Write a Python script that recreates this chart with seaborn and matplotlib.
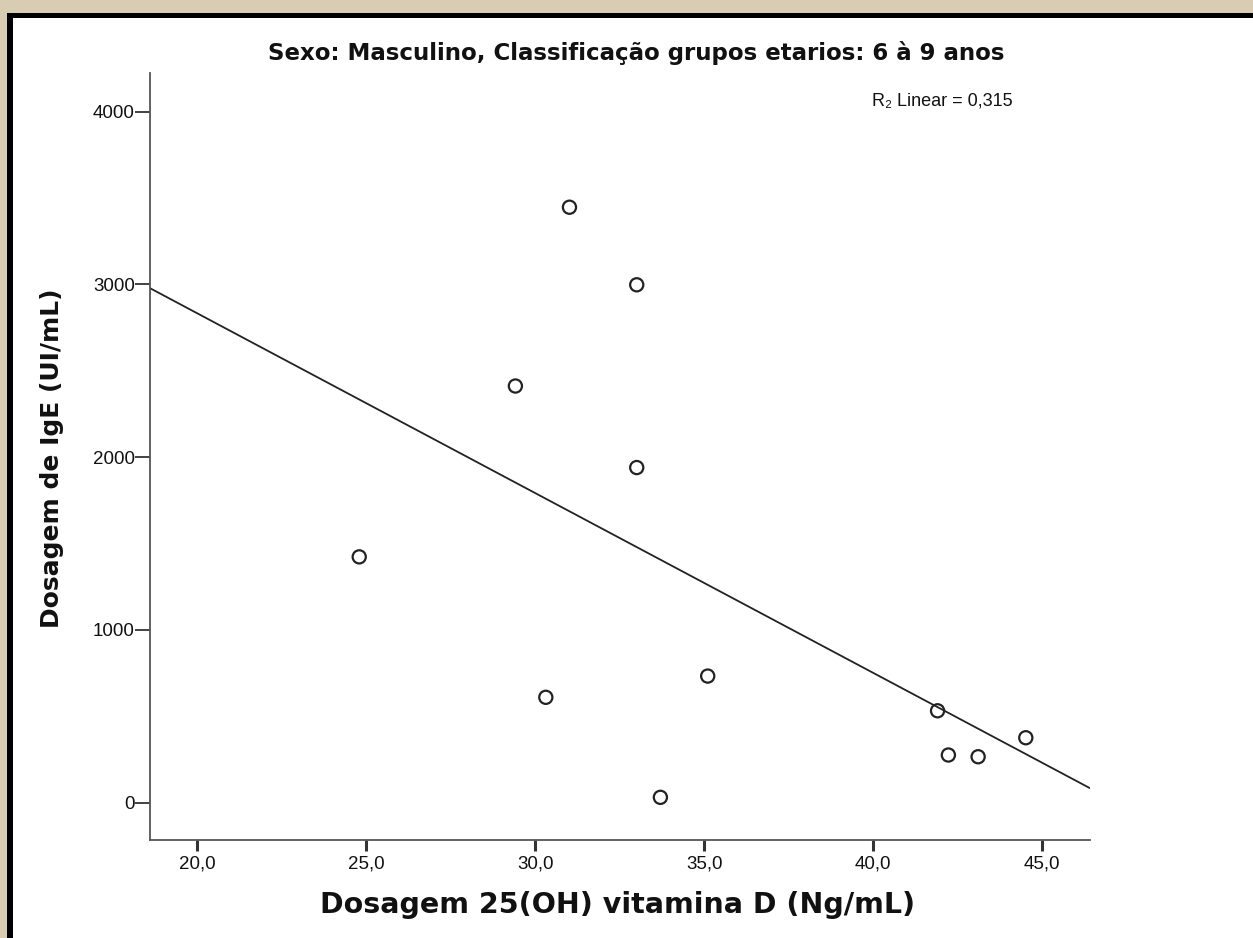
import numpy as np
import pandas as pd
import matplotlib
matplotlib.use("Agg")
import matplotlib.pyplot as plt
from matplotlib.patches import Rectangle
import seaborn as sns

# ---- data ----
vit_d = [31.01, 33.00, 29.41, 33.00, 24.79, 30.31, 35.10, 33.70, 41.90, 42.22, 43.10, 44.51]
ige   = [3447, 2998, 2412, 1940, 1423, 610, 733, 31, 532, 276, 266, 376]
x_ticks = [20.0, 25.0, 30.0, 35.0, 40.0, 45.0]
x_tick_labels = ["20,0", "25,0", "30,0", "35,0", "40,0", "45,0"]
y_ticks = [0, 1000, 2000, 3000, 4000]
y_tick_labels = ["0", "1000", "2000", "3000", "4000"]
title = "Sexo: Masculino, Classificação grupos etarios: 6 à 9 anos"
x_label = "Dosagem 25(OH) vitamina D (Ng/mL)"
y_label = "Dosagem de IgE (UI/mL)"
r2_text = "R₂ Linear = 0,315"

df = pd.DataFrame({"vitd": vit_d, "ige": ige})

sns.set_theme(style="white")
plt.rcParams["font.family"] = ["Liberation Sans", "DejaVu Sans"]

W, H = 1253, 938
fig = plt.figure(figsize=(W / 100, H / 100), dpi=100)
fig.patch.set_facecolor("#d8cdb3")

# framed white panel
fig.patches.append(Rectangle((7 / W, 0), 1.0, 1 - 13 / H, transform=fig.transFigure,
                             facecolor="black", edgecolor="none", zorder=-10))
fig.patches.append(Rectangle((13 / W, 0), 1.0, 1 - 18 / H, transform=fig.transFigure,
                             facecolor="white", edgecolor="none", zorder=-9))

ax = fig.add_axes([150 / W, 1 - 840 / H, (1090 - 150) / W, (840 - 73) / H])
ax.set_zorder(2)
ax.set_facecolor("none")
ax.set_xlim(18.6, 46.41)
ax.set_ylim(-216, 4224)

sns.scatterplot(data=df, x="vitd", y="ige", ax=ax, marker="o", s=90,
                facecolors="none", edgecolor="#222222", linewidth=1.6, zorder=3)
sns.regplot(data=df, x="vitd", y="ige", ax=ax, scatter=False, ci=None,
            truncate=False, line_kws={"color": "#222222", "linewidth": 1.3})

ax.set_xlim(18.6, 46.41)
ax.set_ylim(-216, 4224)

for s in ["top", "right"]:
    ax.spines[s].set_visible(False)
for s in ["left", "bottom"]:
    ax.spines[s].set_color("#555555")
    ax.spines[s].set_linewidth(1.3)

ax.set_xticks(x_ticks)
ax.set_xticklabels(x_tick_labels)
ax.set_yticks(y_ticks)
ax.set_yticklabels(y_tick_labels)
ax.tick_params(axis="x", direction="out", length=8, width=2.2, color="#333333",
               labelsize=13.5, pad=3, bottom=True)
ax.tick_params(axis="y", direction="out", length=11, width=1.2, color="#222222",
               labelsize=13.5, pad=0, left=True)
for lab in ax.get_xticklabels() + ax.get_yticklabels():
    lab.set_color("#111111")

ax.set_xlabel("")
ax.set_ylabel("")

fig.text(636 / W, 1 - 53 / H, title, ha="center", va="center",
         fontsize=16.5, fontweight="bold", family=["DejaVu Sans"], color="#111111")
fig.text(618 / W, 1 - 905 / H, x_label, ha="center", va="center",
         fontsize=20.5, fontweight="bold", family=["DejaVu Sans"], color="#111111")
fig.text(52 / W, 1 - 458 / H, y_label, ha="center", va="center", rotation=90,
         fontsize=18, fontweight="bold", family=["DejaVu Sans"], color="#111111")
fig.text(942 / W, 1 - 101 / H, r2_text, ha="center", va="center",
         fontsize=13, family=["Liberation Sans", "DejaVu Sans"], color="#111111")

fig.savefig("out.png", dpi=100, facecolor=fig.get_facecolor())
